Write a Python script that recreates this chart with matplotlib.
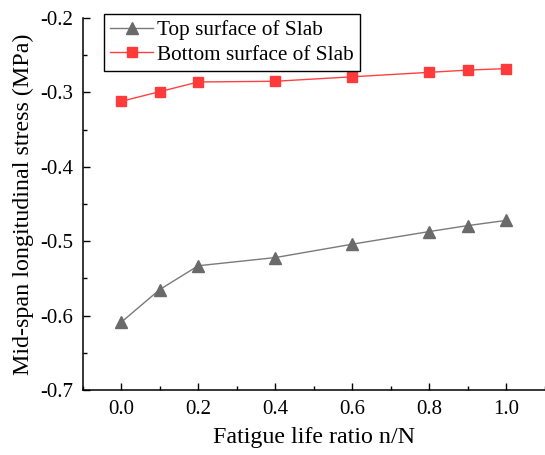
import matplotlib.pyplot as plt
from matplotlib.ticker import MultipleLocator

plt.rcParams['font.family'] = ['Liberation Serif', 'DejaVu Serif']
plt.rcParams['axes.unicode_minus'] = False

# fatigue life ratio n/N
ratio = [0.0, 0.1, 0.2, 0.4, 0.6, 0.8, 0.9, 1.0]
# mid-span longitudinal stress (MPa)
top_stress = [-0.609, -0.565, -0.533, -0.522, -0.504, -0.487, -0.479, -0.472]
bottom_stress = [-0.312, -0.299, -0.286, -0.285, -0.279, -0.273, -0.270, -0.268]

fig = plt.figure(figsize=(5.45, 4.55), dpi=100)
ax = fig.add_axes([0.1517, 0.1429, 0.8483, 0.8175])

ax.plot(ratio, top_stress, color='#7a7a7a', lw=1.0, marker='^', markersize=8.5,
        markerfacecolor='#6a6a6a', markeredgecolor='#6a6a6a', label='Top surface of Slab')
ax.plot(ratio, bottom_stress, color='#ff4040', lw=1.0, marker='s', markersize=6.5,
        markerfacecolor='#ff3a3a', markeredgecolor='#ff3a3a', label='Bottom surface of Slab')

ax.set_xlim(-0.1, 1.1)
ax.set_ylim(-0.7, -0.2)
ax.xaxis.set_major_locator(MultipleLocator(0.2))
ax.xaxis.set_minor_locator(MultipleLocator(0.1))
ax.yaxis.set_major_locator(MultipleLocator(0.1))
ax.yaxis.set_minor_locator(MultipleLocator(0.05))
ax.xaxis.set_major_formatter(plt.FormatStrFormatter('%.1f'))
ax.yaxis.set_major_formatter(plt.FormatStrFormatter('%.1f'))

ax.spines['top'].set_visible(False)
ax.spines['right'].set_visible(False)
for s in ['left', 'bottom']:
    ax.spines[s].set_linewidth(1.1)
ax.tick_params(which='both', direction='in', width=1.0, labelsize=15)
ax.tick_params(which='major', length=5)
ax.tick_params(which='minor', length=3)
ax.tick_params(axis='y', pad=7)
ax.tick_params(axis='x', pad=7)

ax.set_xlabel('Fatigue life ratio n/N', fontsize=17.3, labelpad=6)
ax.set_ylabel('Mid-span longitudinal stress (MPa)', fontsize=17.3, labelpad=4)

leg = ax.legend(loc='upper left', bbox_to_anchor=(0.047, 1.01), fontsize=15.3,
                frameon=True, fancybox=False, edgecolor='black', framealpha=1,
                borderpad=0.28, handlelength=2.0, handletextpad=0.2,
                labelspacing=0.22, borderaxespad=0)
leg.get_frame().set_linewidth(1.0)

plt.savefig('out.png', dpi=100)
